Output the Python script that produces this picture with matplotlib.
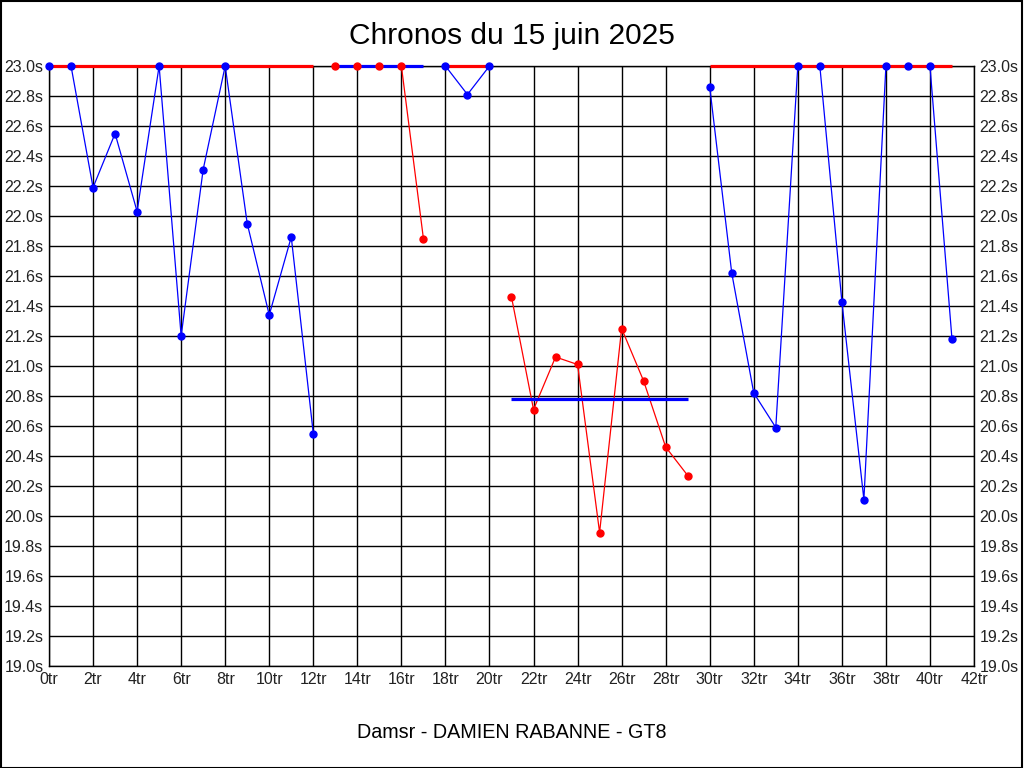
import matplotlib
matplotlib.use("Agg")
from matplotlib import pyplot as plt
import numpy as np

# lap times per stint (values above 23.0s are clipped at 23.0 on the chart)
laps_1 = [0, 1, 2, 3, 4, 5, 6, 7, 8, 9, 10, 11, 12]
times_1 = [23.0, 23.0, 22.19, 22.55, 22.03, 23.0, 21.2, 22.31, 23.0, 21.95, 21.34, 21.86, 20.55]
laps_2 = [13, 14, 15, 16, 17]
times_2 = [23.0, 23.0, 23.0, 23.0, 21.85]
laps_3 = [18, 19, 20]
times_3 = [23.0, 22.81, 23.0]
laps_4 = [21, 22, 23, 24, 25, 26, 27, 28, 29]
times_4 = [21.46, 20.71, 21.06, 21.01, 19.89, 21.25, 20.9, 20.46, 20.27]
laps_5 = [30, 31, 32, 33, 34, 35, 36, 37, 38, 39, 40, 41]
times_5 = [22.86, 21.62, 20.82, 20.59, 23.0, 23.0, 21.43, 20.11, 23.0, 23.0, 23.0, 21.18]
stint_means = [23.0, 23.0, 23.0, 20.78, 23.0]

stints = [(laps_1, times_1), (laps_2, times_2), (laps_3, times_3), (laps_4, times_4), (laps_5, times_5)]
point_colors = ['#0000ff', '#ff0000', '#0000ff', '#ff0000', '#0000ff']
mean_colors = ['#ff0000', '#0000ff', '#ff0000', '#0000ff', '#ff0000']

plt.rcParams['font.family'] = ['Liberation Sans', 'DejaVu Sans']

fig = plt.figure(figsize=(10.24, 7.68), dpi=100)
ax = fig.add_axes([49/1024, 1-666/768, 925/1024, 600/768])

for i, (laps, times) in enumerate(stints):
    ax.plot(laps, times, color=point_colors[i], lw=0.9, zorder=3, clip_on=False)
    ax.plot([laps[0], laps[-1]], [stint_means[i]]*2, color=mean_colors[i], lw=2.3, zorder=4,
            solid_capstyle='butt', clip_on=False)
    ax.plot(laps, times, 'o', color=point_colors[i], ms=5, zorder=5, clip_on=False)

ax.set_xlim(0, 42)
ax.set_ylim(19.0, 23.0)
xt = np.arange(0, 43, 2)
yt = np.round(np.arange(19.0, 23.01, 0.2), 1)
ax.set_xticks(xt)
ax.set_xticklabels([f"{v}tr" for v in xt])
ax.set_yticks(yt)
ax.set_yticklabels([f"{v:.1f}s" for v in yt])
ax.tick_params(length=0, labelsize=11.5, pad=4, labelright=True, right=False, colors='#222222')
ax.grid(True, color='black', lw=1.0)
ax.set_axisbelow(True)
for s in ax.spines.values():
    s.set_linewidth(1.0)

fig.text(0.5, 1-36/768, "Chronos du 15 juin 2025", ha='center', va='center', fontsize=21.5)
fig.text(0.5, 1-733/768, "Damsr - DAMIEN RABANNE - GT8", ha='center', va='center', fontsize=14.2)
fig.patches.append(plt.Rectangle((0.0005, 0.0005), 0.998, 0.998, transform=fig.transFigure,
                                 fill=False, edgecolor='black', lw=1.5))

fig.savefig('out.png', dpi=100)
